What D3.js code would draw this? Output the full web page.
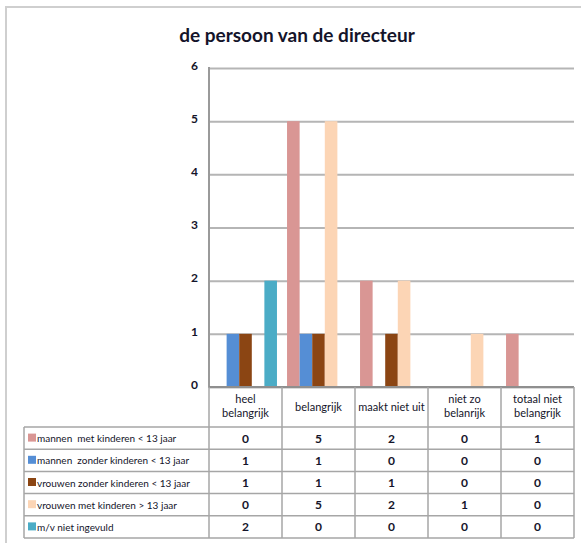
<!DOCTYPE html>
<html>
<head>
<meta charset="utf-8">
<script src="https://cdn.jsdelivr.net/npm/d3@7"></script>
<style>
  body { margin: 0; background: #fff; }
  svg { display: block; }
  text { font-family: Lato, "Open Sans", sans-serif; fill: #14142a; white-space: pre; }
</style>
</head>
<body>
<svg width="581" height="543"></svg>
<script>
var categories = ["heel belangrijk", "belangrijk", "maakt niet uit", "niet zo belanrijk", "totaal niet belangrijk"];
var headerLines = [["heel", "belangrijk"], ["belangrijk"], ["maakt niet uit"], ["niet zo", "belanrijk"], ["totaal niet", "belangrijk"]];

var seriesNames = [
  "mannen  met kinderen < 13 jaar",
  "mannen  zonder kinderen < 13 jaar",
  "vrouwen zonder kinderen < 13 jaar",
  "vrouwen met kinderen > 13 jaar",
  "m/v niet ingevuld"
];
var mannenMet     = [0, 5, 2, 0, 1];
var mannenZonder  = [1, 1, 0, 0, 0];
var vrouwenZonder = [1, 1, 1, 0, 0];
var vrouwenMet    = [0, 5, 2, 1, 0];
var mvNiet        = [2, 0, 0, 0, 0];
var yTicks = [0, 1, 2, 3, 4, 5, 6];

var colors = ["#d99694", "#558ed5", "#8b4513", "#fcd5b5", "#4bacc6"];

var series = [mannenMet, mannenZonder, vrouwenZonder, vrouwenMet, mvNiet].map(function(vals, i) {
  return { name: seriesNames[i], color: colors[i], values: vals };
});

var svg = d3.select("svg");

// outer frame (only top/left visible)
svg.append("path")
    .attr("d", "M6,543V7H581")
    .attr("fill", "none")
    .attr("stroke", "#cfcfcf")
    .attr("stroke-width", 2);

// title
svg.append("text")
    .attr("x", 297)
    .attr("y", 42)
    .attr("text-anchor", "middle")
    .style("font-size", "19px")
    .style("font-weight", "bold")
    .text("de persoon van de directeur");

var x = d3.scaleBand().domain(categories).range([209, 574]);
var x1 = d3.scaleBand().domain(seriesNames).range([0, x.bandwidth()]).paddingOuter(0.4);
var y = d3.scaleLinear().domain([0, 6]).range([387, 68]);

// gridlines + y axis
var yAxis = svg.append("g")
    .attr("transform", "translate(209,0)")
    .call(d3.axisLeft(y).tickValues(yTicks).tickSize(-(574 - 209)).tickPadding(11).tickFormat(d3.format("d")));
yAxis.select(".domain").remove();
yAxis.selectAll(".tick line")
    .attr("stroke", "#b5b5b5")
    .attr("stroke-width", 2);
yAxis.selectAll(".tick text")
    .attr("dy", "0.1em")
    .style("font-size", "12px")
    .style("font-weight", "bold");

// bars
var groups = svg.selectAll(".series")
    .data(series)
    .enter().append("g")
      .attr("class", "series")
      .attr("fill", function(d) { return d.color; });

groups.selectAll("rect")
    .data(function(d) { return d.values.map(function(v, j) { return { name: d.name, cat: categories[j], value: v }; }); })
    .enter().append("rect")
      .attr("x", function(d) { return x(d.cat) + x1(d.name); })
      .attr("width", x1.bandwidth())
      .attr("y", function(d) { return y(d.value); })
      .attr("height", function(d) { return y(0) - y(d.value); });

// y axis line
svg.append("line")
    .attr("x1", 209).attr("x2", 209)
    .attr("y1", 67).attr("y2", 388)
    .attr("stroke", "#9a9a9a")
    .attr("stroke-width", 2);

// data table
var tableLeft = 24, tableRight = 574, headTop = 387, headBottom = 427, rowH = 22.2;
var tableBottom = headBottom + rowH * series.length;
var grid = svg.append("g")
    .attr("stroke", "#a6a6a6")
    .attr("stroke-width", 1.5)
    .attr("fill", "none");

// baseline / header top
grid.append("line")
    .attr("x1", 209).attr("x2", tableRight)
    .attr("y1", headTop).attr("y2", headTop)
    .attr("stroke", "#8f8f8f").attr("stroke-width", 2);

// horizontal row lines
d3.range(series.length + 1).forEach(function(i) {
  var yy = headBottom + i * rowH;
  grid.append("line")
      .attr("x1", tableLeft).attr("x2", tableRight)
      .attr("y1", yy).attr("y2", yy);
});

// vertical lines
var colEdges = categories.map(function(c) { return x(c); }).concat([tableRight]);
colEdges.forEach(function(xx) {
  grid.append("line")
      .attr("x1", xx).attr("x2", xx)
      .attr("y1", headTop).attr("y2", tableBottom);
});
grid.append("line")
    .attr("x1", tableLeft).attr("x2", tableLeft)
    .attr("y1", headBottom).attr("y2", tableBottom);

// header labels
categories.forEach(function(c, i) {
  var lines = headerLines[i];
  var cx = x(c) + x.bandwidth() / 2;
  var startY = lines.length === 1 ? 411 : 403;
  var t = svg.append("text")
      .attr("text-anchor", "middle")
      .style("font-size", "11px");
  lines.forEach(function(l, k) {
    t.append("tspan")
        .attr("x", cx)
        .attr("y", startY + k * 14)
        .text(l);
  });
});

// row legends + values
series.forEach(function(s, i) {
  var top = headBottom + i * rowH;
  var mid = top + rowH / 2;
  svg.append("rect")
      .attr("x", 28).attr("y", mid - 4.5)
      .attr("width", 8).attr("height", 8)
      .attr("fill", s.color);
  svg.append("text")
      .attr("x", 37).attr("y", mid + 4)
      .style("font-size", "10px")
      .text(s.name);
  s.values.forEach(function(v, j) {
    svg.append("text")
        .attr("x", x(categories[j]) + x.bandwidth() / 2)
        .attr("y", mid + 4.5)
        .attr("text-anchor", "middle")
        .style("font-size", "12px")
        .style("font-weight", "bold")
        .text(v);
  });
});
</script>
</body>
</html>
